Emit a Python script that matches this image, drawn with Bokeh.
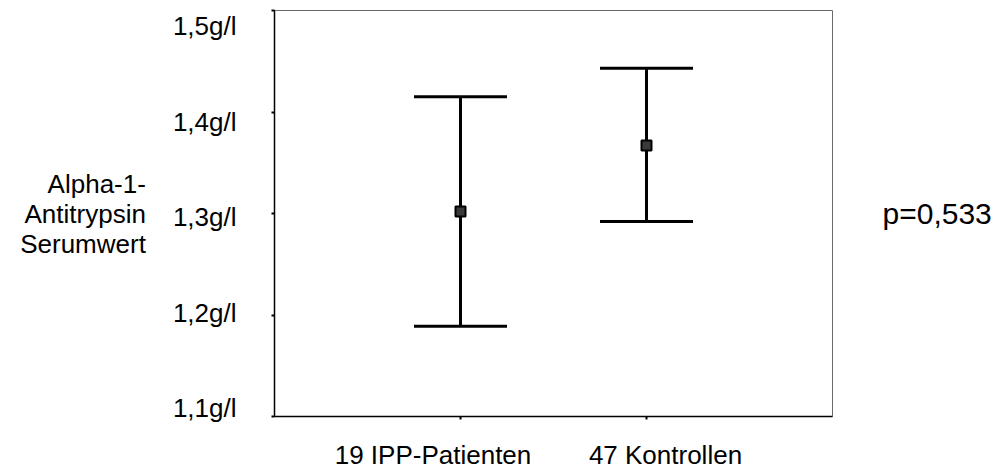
from bokeh.plotting import figure
from bokeh.models import (ColumnDataSource, Whisker, TeeHead, Range1d, LinearAxis,
                          FixedTicker, CustomLabelingPolicy)
from bokeh.embed import file_html
from bokeh.resources import INLINE

# ---- data ----
groups = ["19 IPP-Patienten", "47 Kontrollen"]
group_pos = [1, 2]
means = [1.302, 1.367]
upper = [1.415, 1.443]
lower = [1.189, 1.292]
y_ticks = [1.1, 1.2, 1.3, 1.4, 1.5]
y_tick_labels = ["1,1g/l", "1,2g/l", "1,3g/l", "1,4g/l", "1,5g/l"]
y_title = ["Alpha-1-", "Antitrypsin", "Serumwert"]
p_text = "p=0,533"

FONT = "Liberation Sans"
FS = "26px"

p = figure(width=1005, height=472, output_backend="svg", toolbar_location=None,
           x_range=Range1d(0, 3), y_range=Range1d(1.1, 1.5),
           min_border_left=274, min_border_right=173, min_border_top=10,
           min_border_bottom=55)
p.grid.visible = False
p.outline_line_color = "#6a6a6a"
p.outline_line_width = 1
p.background_fill_color = "white"
p.border_fill_color = "white"

no_labels = CustomLabelingPolicy(code="for (const i of indices) indices.unset(i); return indices")

# main axes: ticks only
for ax, ticks in ((p.xaxis[0], group_pos), (p.yaxis[0], y_ticks)):
    ax.ticker = FixedTicker(ticks=ticks)
    ax.major_label_policy = no_labels
    ax.major_label_text_font_size = "0px"
    ax.major_label_standoff = 0
    ax.major_tick_out = 3
    ax.major_tick_in = 0
    ax.major_tick_line_width = 2
    ax.major_tick_line_color = "black"
    ax.minor_tick_line_color = None
    ax.axis_line_color = "black"
    ax.axis_line_width = 1.5

# label axes (the original's labels are offset from their ticks)
p.extra_x_ranges = {"lab": Range1d(0.3183, 2.7183)}
p.extra_y_ranges = {"lab": Range1d(1.0916, 1.5167)}

xlab = LinearAxis(x_range_name="lab", ticker=FixedTicker(ticks=group_pos),
                  major_label_overrides={k: v for k, v in zip(group_pos, groups)})
ylab = LinearAxis(y_range_name="lab", ticker=FixedTicker(ticks=y_ticks),
                  major_label_overrides={k: v for k, v in zip(y_ticks, y_tick_labels)},
                  axis_label="\n".join(y_title))
pax = LinearAxis(ticker=FixedTicker(ticks=[]), axis_label=p_text)
for ax in (xlab, ylab, pax):
    ax.axis_line_color = None
    ax.major_tick_line_color = None
    ax.minor_tick_line_color = None
    ax.major_tick_out = 0
    ax.major_tick_in = 0
    ax.major_label_text_font = FONT
    ax.major_label_text_font_size = FS
    ax.major_label_text_color = "black"
    ax.axis_label_text_font = FONT
    ax.axis_label_text_font_size = FS
    ax.axis_label_text_font_style = "normal"
    ax.axis_label_text_color = "black"
    ax.axis_label_orientation = "horizontal"
xlab.major_label_standoff = 20
ylab.major_label_standoff = 35
ylab.axis_label_standoff = 24
ylab.axis_label_text_align = "center"
ylab.axis_label_text_line_height = 1.0
pax.major_label_standoff = 0
pax.major_label_text_font_size = "0px"
pax.axis_label_standoff = 50
pax.axis_label_text_font_size = "30px"
p.add_layout(xlab, "below")
p.add_layout(ylab, "left")
p.add_layout(pax, "right")

# error bars
src = ColumnDataSource(dict(x=group_pos, mean=means, upper=upper, lower=lower))
head = dict(size=93, line_width=3, line_color="black")
w = Whisker(source=src, base="x", upper="upper", lower="lower", dimension="height",
            line_width=3, line_color="black",
            upper_head=TeeHead(**head), lower_head=TeeHead(**head))
p.add_layout(w)
p.scatter("x", "mean", source=src, marker="square", size=10,
          fill_color="#3a3a3a", line_color="black", line_width=2)

open("out.html", "w").write(file_html(p, INLINE))
